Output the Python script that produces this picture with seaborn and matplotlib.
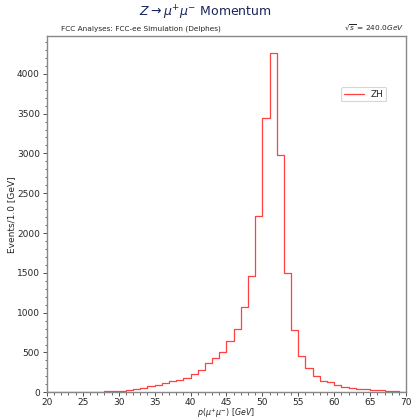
import numpy as np
import pandas as pd
import matplotlib
matplotlib.use("Agg")
import matplotlib.pyplot as plt
import seaborn as sns
from matplotlib.ticker import AutoMinorLocator

# Dimuon momentum histogram, 1 GeV bins from 20 to 70 GeV
bin_edges = list(range(20, 71))
counts_zh = [
    2, 2, 3, 3, 4, 5, 6, 8, 11, 15,          # 20-30
    21, 34, 46, 59, 75, 96, 117, 138, 150, 184,  # 30-40
    232, 284, 364, 435, 512, 643, 799, 1065, 1460, 2220,  # 40-50
    3444, 4260, 2980, 1492, 781, 459, 304, 208, 145, 125,  # 50-60
    92, 70, 54, 45, 38, 29, 24, 16, 12, 8,   # 60-70
]
process_label = "ZH"

centers = [0.5 * (a + b) for a, b in zip(bin_edges[:-1], bin_edges[1:])]
df = pd.DataFrame({"p": centers, "w": counts_zh, "process": process_label})

sns.set_style("ticks")
plt.rcParams["font.family"] = ["DejaVu Sans"]

fig = plt.figure(figsize=(4.11, 4.20), dpi=100)
ax = fig.add_axes([0.114, 0.066, 0.874, 0.848])

sns.histplot(data=df, x="p", weights="w", bins=bin_edges, element="step",
             fill=False, color="#ff2020", linewidth=0.9, alpha=0.85, ax=ax,
             label=process_label)

ax.set_xlim(20, 70)
ax.set_ylim(0, max(counts_zh) * 1.05)
ax.set_xticks(range(20, 71, 5))
ax.set_yticks(range(0, 4001, 500))
ax.xaxis.set_minor_locator(AutoMinorLocator(5))
ax.yaxis.set_minor_locator(AutoMinorLocator(5))
ax.tick_params(axis="both", which="major", labelsize=6.5, length=3, width=0.6,
               color="#333333", pad=2)
ax.tick_params(axis="x", which="major", pad=1.0)
ax.tick_params(axis="both", which="minor", length=1.8, width=0.5, color="#333333")
for s in ax.spines.values():
    s.set_color("#888888")
    s.set_linewidth(1.0)

ax.set_xlabel(r"$p(\mu^{+}\mu^{-})$ [$GeV$]", fontsize=5.7)
ax.xaxis.set_label_coords(0.5, -0.039)
ax.set_ylabel("Events/1.0 [GeV]", fontsize=6.5)
ax.yaxis.set_label_coords(-0.085, 0.5)

leg = ax.legend(loc="upper right", bbox_to_anchor=(0.945, 0.857), fontsize=6.5,
                frameon=True, handlelength=2.2, borderpad=0.3,
                borderaxespad=0.0)
leg.get_frame().set_edgecolor("#cccccc")
leg.get_frame().set_linewidth(0.8)

fig.text(0.5, 0.970, r"$Z\rightarrow\mu^{+}\mu^{-}$ Momentum", ha="center",
         va="center", fontsize=9, color="#1a2456")
ax.text(0.04, 1.012, "FCC Analyses: FCC-ee Simulation (Delphes)",
        transform=ax.transAxes, ha="left", va="bottom", fontsize=5.3)
ax.text(0.995, 1.012, r"$\sqrt{s}$ = 240.0$GeV$", transform=ax.transAxes,
        ha="right", va="bottom", fontsize=5.3)

fig.savefig("out.png", dpi=100)
